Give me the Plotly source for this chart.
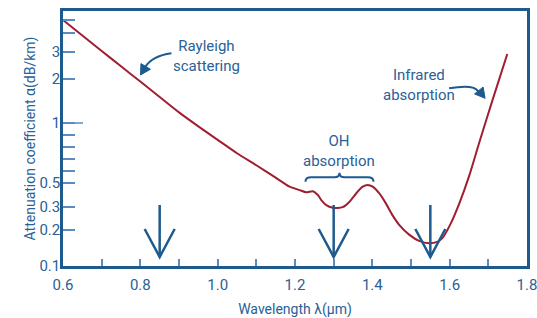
import numpy as np
import plotly.graph_objects as go

# ---------------- data ----------------
wavelength_um = [0.60, 0.70, 0.75, 0.80, 0.85, 0.90, 0.95, 1.00, 1.05, 1.10, 1.15,
                 1.186, 1.212, 1.229, 1.246, 1.259, 1.268, 1.281, 1.298, 1.311, 1.323,
                 1.341, 1.358, 1.375, 1.388, 1.401, 1.418, 1.435, 1.452, 1.470, 1.496,
                 1.521, 1.547, 1.569, 1.581, 1.603, 1.625, 1.650, 1.676, 1.711, 1.749]
attenuation_db_km = [5.0, 3.05, 2.42, 1.92, 1.506, 1.182, 0.971, 0.858, 0.746, 0.646, 0.542,
                     0.462, 0.43, 0.41, 0.42, 0.387, 0.348, 0.312, 0.296, 0.295, 0.299,
                     0.336, 0.40, 0.462, 0.48, 0.462, 0.40, 0.324, 0.26, 0.218, 0.182,
                     0.162, 0.155, 0.16, 0.171, 0.225, 0.324, 0.5525, 0.83, 1.44, 2.91]

x_tick_values = [0.6, 0.7, 0.8, 0.9, 1.0, 1.1, 1.2, 1.3, 1.4, 1.5, 1.6, 1.7, 1.8]
x_tick_labels = ["0.6", "", "0.8", "", "1.0", "", "1.2", "", "1.4", "", "1.6", "", "1.8"]

y_tick_values = [0.1, 0.2, 0.3, 0.5, 0.6, 0.7, 0.8, 0.9, 1, 2, 3, 4, 5]
y_tick_labels = ["0.1", "0.2", "0.3", "0.5", "", "", "", "", "1", "2", "3", "", ""]

window_wavelengths = [0.85, 1.30, 1.55]

# ------------- hand-drawn style y scale (axis units) -------------
SCALE_VALUES = [0.1, 0.2, 0.3, 0.5, 0.6, 0.7, 0.8, 0.9, 1, 2, 3, 4, 5, 6]
SCALE_UNITS = [0, 36, 59, 83, 95, 107, 119, 131, 143, 187, 214, 233, 246, 257.6]


def ys(v):
    return np.interp(np.log10(v), np.log10(SCALE_VALUES), SCALE_UNITS)


W, H = 537, 318
ML, MR, MT, MB = 63, 10, 11, 52
X0, X1 = 0.6, 1.8
Y0, Y1 = 0, 255
PXX = (W - ML - MR) / (X1 - X0)          # px per um
PXY = (H - MT - MB) / (Y1 - Y0)          # px per axis unit

RED = "#a01e32"
AXIS = "#1d5a8e"
TICK = "#5b8cbd"
TEXT = "#2a6196"
FONT = "Roboto"

fig = go.Figure()
fig.add_trace(go.Scatter(
    x=wavelength_um, y=ys(np.array(attenuation_db_km)),
    mode="lines", line=dict(color=RED, width=2, shape="spline", smoothing=0.6),
    hoverinfo="skip"))

shapes = []


def head(tx, tu, dxp, dyp, length, half, filled=True):
    n = np.hypot(dxp, dyp)
    dxp, dyp = dxp / n, dyp / n
    bx, by = -dxp * length, -dyp * length
    px, py = -dyp * half, dxp * half
    p1 = (tx + (bx + px) / PXX, tu - (by + py) / PXY)
    p2 = (tx + (bx - px) / PXX, tu - (by - py) / PXY)
    if filled:
        return f"M {p1[0]},{p1[1]} L {tx},{tu} L {p2[0]},{p2[1]} Z"
    return f"M {p1[0]},{p1[1]} L {tx},{tu} L {p2[0]},{p2[1]}"


# vertical window arrows
for w in window_wavelengths:
    shapes.append(dict(type="line", xref="x", yref="y", x0=w, x1=w, y0=61, y1=9,
                       line=dict(color=AXIS, width=2.5)))
    shapes.append(dict(type="path", xref="x", yref="y",
                       path=head(w, 9, 0, 1, 28, 15, filled=False),
                       line=dict(color=AXIS, width=2.5)))

# OH brace
bl, bm, br = 1.227, 1.315, 1.403
ue, uh, ut = 84.3, 88.7, 93.3
shapes.append(dict(type="path", xref="x", yref="y",
                   path=(f"M {bl},{ue} Q {bl},{uh} {bl+0.015},{uh} L {bm-0.013},{uh} "
                         f"Q {bm},{uh} {bm},{ut} Q {bm},{uh} {bm+0.013},{uh} "
                         f"L {br-0.015},{uh} Q {br},{uh} {br},{ue}"),
                   line=dict(color=AXIS, width=2)))

# Rayleigh curved arrow
shapes.append(dict(type="path", xref="x", yref="y",
                   path="M 0.8805,212.7 Q 0.8297,210 0.8124,198.7",
                   line=dict(color=AXIS, width=2)))
shapes.append(dict(type="path", xref="x", yref="y",
                   path=head(0.8005, 191, -9, 15, 10, 5.5),
                   line=dict(color=AXIS, width=1), fillcolor=AXIS))

# Infrared curved arrow
shapes.append(dict(type="path", xref="x", yref="y",
                   path="M 1.5987,177.7 Q 1.6632,182 1.6740,174.5",
                   line=dict(color=AXIS, width=2)))
shapes.append(dict(type="path", xref="x", yref="y",
                   path=head(1.6916, 167.7, 8, 10, 10, 5.5),
                   line=dict(color=AXIS, width=1), fillcolor=AXIS))

# longer tick at 1
shapes.append(dict(type="line", xref="paper", yref="y", x0=0, x1=20 / (W - ML - MR),
                   y0=ys(1), y1=ys(1), line=dict(color=TICK, width=1.5)))

annotations = [
    dict(x=0.972, y=210.5, text="Rayleigh<br>scattering"),
    dict(x=1.315, y=115.5, text="OH<br>absorption"),
    dict(x=1.521, y=181, text="Infrared<br>absorption"),
]
for a in annotations:
    a.update(xref="x", yref="y", showarrow=False, align="center",
             font=dict(family=FONT, size=15, color=TEXT))

fig.update_layout(
    width=W, height=H, margin=dict(l=ML, r=MR, t=MT, b=MB, autoexpand=False),
    paper_bgcolor="white", plot_bgcolor="white", showlegend=False,
    font=dict(family=FONT, color=TEXT),
    shapes=shapes, annotations=annotations,
    xaxis=dict(range=[X0, X1], tickvals=x_tick_values, ticktext=x_tick_labels,
               ticks="inside", ticklen=7, tickwidth=1.5, tickcolor=TICK,
               showline=True, linewidth=2.5, linecolor=AXIS, mirror=True,
               showgrid=False, zeroline=False, ticklabelstandoff=3, automargin=False,
               ticklabeloverflow="allow",
               tickfont=dict(family=FONT, size=15, color=TEXT),
               title=dict(text="Wavelength λ(μm)", standoff=17,
                          font=dict(family=FONT, size=14, color=TEXT))),
    yaxis=dict(range=[Y0, Y1], tickvals=list(ys(np.array(y_tick_values))),
               ticktext=y_tick_labels, automargin=False,
               ticks="inside", ticklen=12, tickwidth=1.5, tickcolor=TICK,
               showline=True, linewidth=2.5, linecolor=AXIS, mirror=True,
               showgrid=False, zeroline=False, ticklabelstandoff=-3,
               ticklabeloverflow="allow",
               tickfont=dict(family=FONT, size=15, color=TEXT),
               title=dict(text="Attenuation coefficient α(dB/km)", standoff=1,
                          font=dict(family=FONT, size=14, color=TEXT))),
)

fig.write_html("out.html", config={"displayModeBar": False},
               post_script="document.body.style.margin='0';document.body.style.overflow='hidden';")
